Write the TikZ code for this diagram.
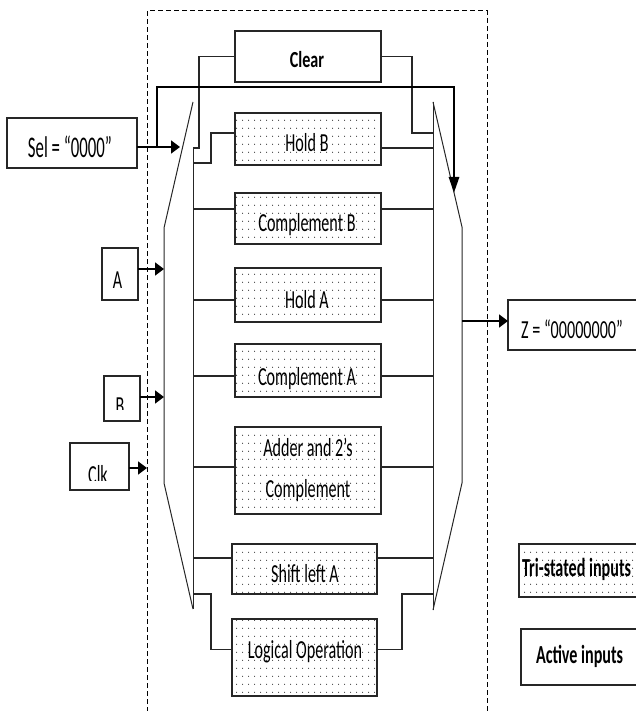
\documentclass[tikz,border=0pt]{standalone}
\usepackage{fontspec}
\setmainfont{Carlito}
\usepackage{graphicx}
\usetikzlibrary{arrows.meta,patterns}
\pgfdeclarepatternformonly{sdots}{\pgfqpoint{0pt}{0pt}}{\pgfqpoint{6pt}{7.7pt}}{\pgfqpoint{6pt}{7.7pt}}{\pgfpathcircle{\pgfqpoint{3pt}{3.85pt}}{0.65pt}\pgfusepath{fill}}
\newcommand\tx[1]{\scalebox{0.62}[1]{\fontsize{26}{30}\selectfont #1}}
\newcommand\txb[1]{\scalebox{0.62}[1]{\fontsize{26}{30}\selectfont\bfseries #1}}
\newcommand\txclear[1]{\scalebox{0.7}[1]{\fontsize{23}{27}\selectfont\bfseries #1}}
\newcommand\txsel[1]{\scalebox{0.56}[1]{\fontsize{30}{34}\selectfont #1}}
\begin{document}
\begin{tikzpicture}[x=1pt,y=-1pt,
  box/.style={draw=black!85,line width=1.4pt,anchor=north west,inner sep=0pt,outer sep=0pt},
  dotbox/.style={box,pattern=sdots,pattern color=black!80},
  lbl/.style={anchor=base,inner sep=0pt,outer sep=0pt},
  wire/.style={draw=black!85,line width=1.2pt},
  muxl/.style={draw=black!85,line width=1pt},
  bus/.style={draw=black,line width=2.8pt},
  inarr/.style={draw=black,line width=1.8pt,-{Triangle[length=9pt,width=13pt]}},
  dashbox/.style={draw=black,line width=1pt,dash pattern=on 5pt off 3pt}]
\path[use as bounding box,clip] (0,0) rectangle (636,711);

% dashed enclosure
\draw[dashbox] (147,720) -- (147,11) -- (487,11) -- (487,720);

% boxes
\node[box,minimum width=146pt,minimum height=51pt] (clear) at (235,31) {};
\node[dotbox,minimum width=146pt,minimum height=52pt] (holdB) at (235,113) {};
\node[dotbox,minimum width=146pt,minimum height=51pt] (compB) at (235,193) {};
\node[dotbox,minimum width=146pt,minimum height=54pt] (holdA) at (235,268) {};
\node[dotbox,minimum width=146pt,minimum height=53pt] (compA) at (235,344) {};
\node[dotbox,minimum width=146pt,minimum height=87pt] (adder) at (235,427) {};
\node[dotbox,minimum width=145pt,minimum height=50pt] (shift) at (232,544) {};
\node[dotbox,minimum width=145pt,minimum height=77pt] (logic) at (232,619) {};
\node[box,minimum width=130pt,minimum height=50pt] (sel) at (7,118) {};
\node[box,minimum width=36pt,minimum height=52pt] (A) at (102,248) {};
\node[box,minimum width=36pt,minimum height=45pt] (B) at (104,376) {};
\node[box,minimum width=59pt,minimum height=47pt] (clk) at (70,443) {};
\node[box,minimum width=150pt,minimum height=50pt] (Z) at (508,300) {};
\node[dotbox,minimum width=140pt,minimum height=53pt] (tri) at (519,544) {};
\node[box,minimum width=140pt,minimum height=56pt] (act) at (521,629) {};

% labels
\node[lbl] (tclear) at (307,68) {\txclear{Clear}};
\node[lbl] (tsel) at (70,158) {\txsel{Sel = “0000”}};
\node[lbl] (tholdB) at (307,152) {\tx{Hold B}};
\node[lbl] (tcompB) at (307,232) {\tx{Complement B}};
\node[lbl] (tholdA) at (307,308) {\tx{Hold A}};
\node[lbl] (tcompA) at (307,385) {\tx{Complement A}};
\node[lbl] (tadd1) at (308,456) {\tx{Adder and 2’s}};
\node[lbl] (tadd2) at (308,497) {\tx{Complement}};
\node[lbl] (tshift) at (305,582) {\tx{Shift left A}};
\node[lbl] (tlogic) at (305,658) {\tx{Logical Operation}};
\node[lbl] (tA) at (117.5,288) {\tx{A}};
\begin{scope}
  \clip (104,376) rectangle (140,409);
  \node[lbl] (tB) at (120,414) {\tx{B}};
\end{scope}
\begin{scope}
  \clip (70,443) rectangle (129,480);
  \node[lbl] (tclk) at (98,483) {\tx{Clk}};
\end{scope}
\node[lbl] (tZ) at (572,338) {\tx{Z = “00000000”}};
\node[lbl,anchor=base west] (ttri) at (522,576) {\txb{Tri-stated inputs}};
\node[lbl,anchor=base west] (tact) at (536,663) {\txb{Active inputs}};

% multiplexer outlines
\coordinate (lmT) at (193,102);
\coordinate (lmB) at (193,609);
\coordinate (rmT) at (433,102);
\coordinate (rmB) at (433,610);
\draw[muxl] (lmT) -- (164,228) -- (164,483) -- (lmB);
\draw[muxl] (193,148) -- (lmB);
\draw[muxl] (rmT) -- (462,227) -- (462,483) -- (rmB);
\draw[muxl] (rmT) -- (rmB);

% mux side coordinates
\foreach \yy in {148,163,209,300,376,467,558,594} {
  \coordinate (lm\yy) at (193,\yy);
}
\foreach \yy in {133,148,209,300,376,467,558,594} {
  \coordinate (rm\yy) at (433,\yy);
}
\coordinate (cj) at (199,148);
\coordinate (hbj) at (211,163);
\coordinate (crj) at (412,133);
\coordinate (lgl) at (211,594);
\coordinate (lgr) at (402,594);

% wires
\draw[wire] (clear.west) -| (cj) -- (lm148);
\draw[wire] ([yshift=6pt]holdB.west) -| (hbj) -- (lm163);
\draw[wire] (clear.east) -| (crj) -- (rm133);
\draw[wire] (holdB.east |- rm148) -- (rm148);
\draw[wire] (lm209) -- (compB.west |- lm209);
\draw[wire] (compB.east |- rm209) -- (rm209);
\draw[wire] (lm300) -- (holdA.west |- lm300);
\draw[wire] (holdA.east |- rm300) -- (rm300);
\draw[wire] (lm376) -- (compA.west |- lm376);
\draw[wire] (compA.east |- rm376) -- (rm376);
\draw[wire] (lm467) -- (adder.west |- lm467);
\draw[wire] (adder.east |- rm467) -- (rm467);
\draw[wire] (lm558) -- (shift.west |- lm558);
\draw[wire] (shift.east |- rm558) -- (rm558);
\draw[wire] ([yshift=8pt]logic.west) -| (lgl) -- (lm594);
\draw[wire] ([yshift=8pt]logic.east) -| (lgr) -- (rm594);

% select bus
\coordinate (selin) at (180,147);
\coordinate (busj) at (157,147);
\coordinate (bustop) at (454,87);
\coordinate (busend) at (454,193);
\draw[inarr] (sel.east |- selin) -- (selin);
\draw[bus,-{Triangle[length=16pt,width=10pt]}] (busj) -- (busj |- bustop) -- (bustop) -- (busend);

% data inputs and output
\coordinate (ain) at (164,269);
\coordinate (bin) at (164,397);
\coordinate (clkin) at (147,468);
\coordinate (zout) at (462,321);
\draw[inarr] (A.east |- ain) -- (ain);
\draw[inarr] (B.east |- bin) -- (bin);
\draw[inarr] (clk.east |- clkin) -- (clkin);
\draw[inarr] (zout) -- (Z.west |- zout);
\end{tikzpicture}
\end{document}
